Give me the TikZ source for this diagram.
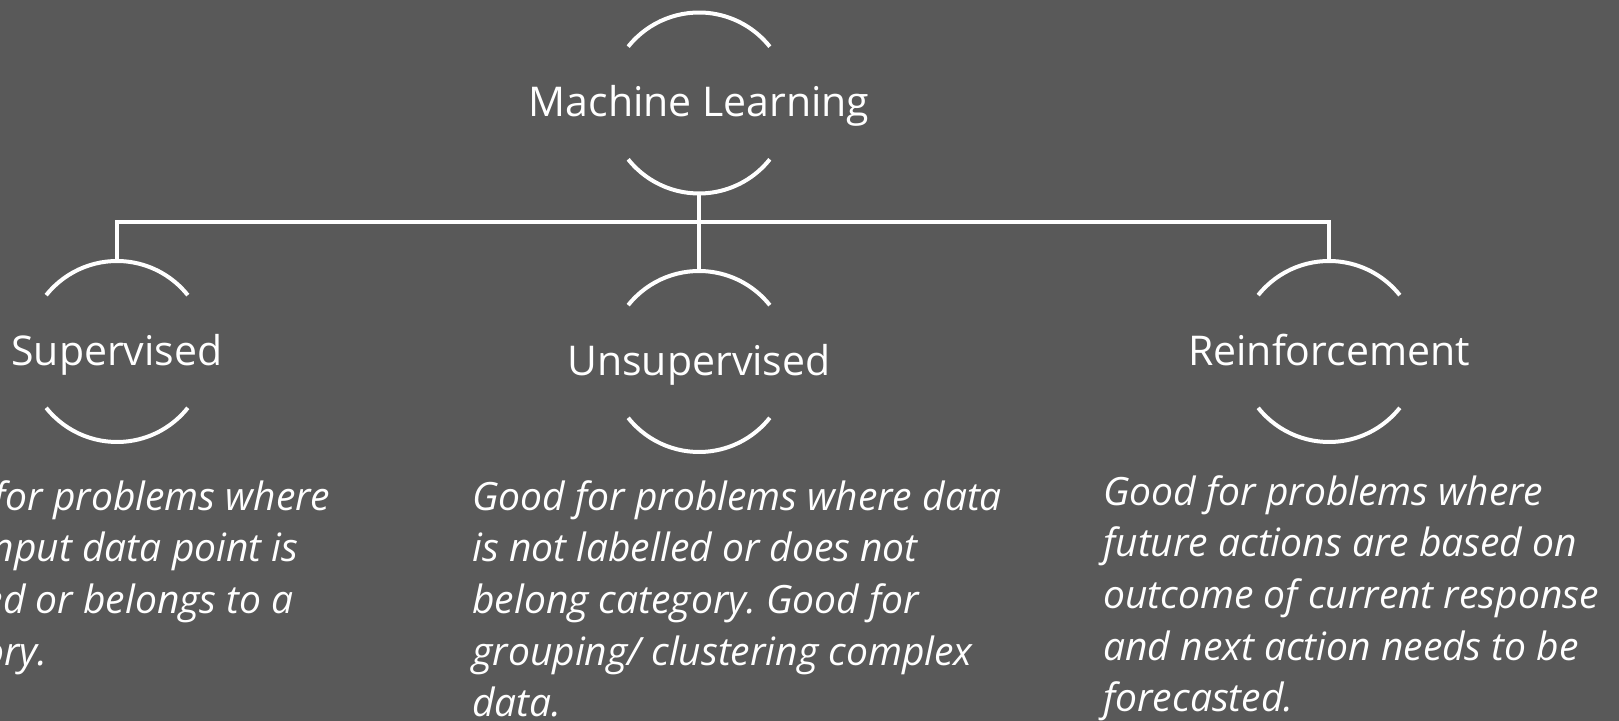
\documentclass[tikz,border=0pt]{standalone}
\usepackage{fontspec}
\setmainfont{Open Sans}
\frenchspacing
\definecolor{slidebg}{HTML}{595959}
\tikzset{
  branch/.style={rectangle, minimum height=90.5pt, inner sep=0pt, outer sep=0pt,
    text height=14pt, text depth=0pt, text=white, font=\fontsize{20.5}{24}\selectfont},
  desc/.style={anchor=north west, align=left, inner sep=0pt, text=white,
    font=\fontsize{19.5}{25.8}\selectfont\itshape},
  arcline/.style={white, line width=2pt},
  link/.style={white, line width=2pt}
}
\begin{document}
\begin{tikzpicture}[x=0.5pt,y=0.5pt]
    \useasboundingbox (0,0) rectangle (1619,-721);
    \fill[slidebg] (0,0) rectangle (1619,-721);
    \clip (0,0) rectangle (1619,-721);
    % the four headings
    \node[branch] (ml) at (699,-103) {Machine Learning};
    \node[branch] (sup) at (117,-351.5) {Supervised};
    \node[branch] (unsup) at (699,-361.5) {Unsupervised};
    \node[branch] (reinf) at (1329,-351.5) {Reinforcement};
    \foreach \n in {ml,sup,unsup,reinf} {
        \draw[arcline] (\n.center) ++(141.5:90.5) arc[start angle=141.5, end angle=38.5, radius=90.5];
        \draw[arcline] (\n.center) ++(218.5:90.5) arc[start angle=218.5, end angle=321.5, radius=90.5];
    }
    % tree lines
    \coordinate (bus) at (699,-222);
    \draw[link] (ml.south) -- (bus);
    \draw[link] (bus) -| (sup.north);
    \draw[link] (bus) -| (reinf.north);
    \draw[link] (bus) -- (unsup.north);
    % descriptions
    \node[desc] (supdesc) at (-110,-480) {Good for problems where\\each input data point is\\labelled or belongs to a\\category.};
    \node[desc] (unsupdesc) at (472,-480) {Good for problems where data\\is not labelled or does not\\belong category. Good for\\grouping/ clustering complex\\data.};
    \node[desc] (reinfdesc) at (1103,-475) {Good for problems where\\future actions are based on\\outcome of current response\\and next action needs to be\\forecasted.};
\end{tikzpicture}
\end{document}
